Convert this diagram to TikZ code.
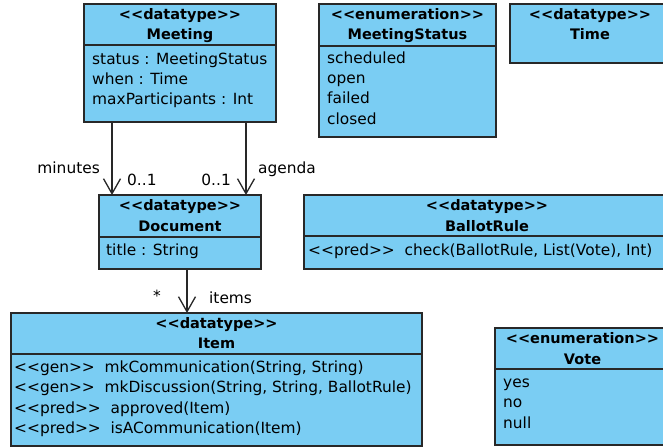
\documentclass[tikz,border=0pt]{standalone}
\usepackage{fontspec}
\setmainfont{DejaVu Sans}
\usetikzlibrary{arrows.meta}
\definecolor{umlfill}{RGB}{122,205,243}
\definecolor{umlline}{RGB}{40,40,40}
\newcommand{\stl}{<{}<}
\newcommand{\str}{>{}>}
\begin{document}
\begin{tikzpicture}[x=1pt,y=-1pt,
  cls/.style={draw=umlline, fill=umlfill, line width=1.3pt, rectangle, inner sep=0pt, outer sep=0pt, anchor=north west},
  hd/.style={font=\fontsize{14.5}{18}\selectfont\bfseries, anchor=base, inner sep=0pt},
  tx/.style={font=\fontsize{15.4}{18}\selectfont, anchor=base west, inner sep=0pt},
  lb/.style={font=\fontsize{15.4}{18}\selectfont, inner sep=0pt},
  assoc/.style={draw=umlline, line width=1.3pt, -{Straight Barb[length=15pt,width=17pt,line width=1.3pt]}},
  sepline/.style={draw=umlline, line width=1.3pt}
]
\useasboundingbox (0,0) rectangle (663,447);
\fill[white] (0,0) rectangle (663,447);

% Meeting
\node[cls, minimum width=192pt, minimum height=118pt] (meeting) at (84,4) {};
\draw[sepline] (meeting.west |- 0,45) -- (meeting.east |- 0,45);
\node[hd] (meetingS) at (180,19) {\stl datatype\str};
\node[hd] (meetingN) at (180,39.3) {Meeting};
\node[tx] (meetingA1) at (92,64) {status : MeetingStatus};
\node[tx] (meetingA2) at (92,84.3) {when : Time};
\node[tx] (meetingA3) at (92,104.6) {maxParticipants : Int};

% MeetingStatus
\node[cls, minimum width=177pt, minimum height=133pt] (mstatus) at (319,4) {};
\draw[sepline] (mstatus.west |- 0,46) -- (mstatus.east |- 0,46);
\node[hd] (mstatusS) at (407.5,19) {\stl enumeration\str};
\node[hd] (mstatusN) at (407.5,39.3) {MeetingStatus};
\node[tx] (mstatusA1) at (327,63.3) {scheduled};
\node[tx] (mstatusA2) at (327,83.6) {open};
\node[tx] (mstatusA3) at (327,103.9) {failed};
\node[tx] (mstatusA4) at (327,124.2) {closed};

% Time
\node[cls, minimum width=160pt, minimum height=59pt] (time) at (510,4) {};
\node[hd] (timeS) at (590,19) {\stl datatype\str};
\node[hd] (timeN) at (590,39.3) {Time};

% Document
\node[cls, minimum width=162pt, minimum height=74pt] (document) at (99,195) {};
\draw[sepline] (document.west |- 0,237) -- (document.east |- 0,237);
\node[hd] (documentS) at (180,210.7) {\stl datatype\str};
\node[hd] (documentN) at (180,231) {Document};
\node[tx] (documentA1) at (106,255.3) {title : String};

% BallotRule
\node[cls, minimum width=366pt, minimum height=74pt] (ballot) at (304,195) {};
\draw[sepline] (ballot.west |- 0,236) -- (ballot.east |- 0,236);
\node[hd] (ballotS) at (487,210.7) {\stl datatype\str};
\node[hd] (ballotN) at (487,231) {BallotRule};
\node[tx] (ballotO1) at (308,255.3) {\stl pred\str~~check(BallotRule, List(Vote), Int)};

% Item
\node[cls, minimum width=411pt, minimum height=133pt] (item) at (11,313) {};
\draw[sepline] (item.west |- 0,354) -- (item.east |- 0,354);
\node[hd] (itemS) at (216.5,328.3) {\stl datatype\str};
\node[hd] (itemN) at (216.5,348.3) {Item};
\node[tx] (itemO1) at (14,372.4) {\stl gen\str~~mkCommunication(String, String)};
\node[tx] (itemO2) at (14,392.7) {\stl gen\str~~mkDiscussion(String, String, BallotRule)};
\node[tx] (itemO3) at (14,413) {\stl pred\str~~approved(Item)};
\node[tx] (itemO4) at (14,433.3) {\stl pred\str~~isACommunication(Item)};

% Vote
\node[cls, minimum width=175pt, minimum height=117pt] (vote) at (495,328) {};
\draw[sepline] (vote.west |- 0,369) -- (vote.east |- 0,369);
\node[hd] (voteS) at (582.5,343.3) {\stl enumeration\str};
\node[hd] (voteN) at (582.5,364) {Vote};
\node[tx] (voteA1) at (503,387.5) {yes};
\node[tx] (voteA2) at (503,407.8) {no};
\node[tx] (voteA3) at (503,428.1) {null};

% connectors
\coordinate (cMin) at (112,0);
\coordinate (cAg) at (246,0);
\coordinate (cIt) at (187,0);
\draw[assoc] (meeting.south -| cMin) -- (document.north -| cMin);
\draw[assoc] (meeting.south -| cAg) -- (document.north -| cAg);
\draw[assoc] (document.south -| cIt) -- (item.north -| cIt);

% labels
\node[lb, anchor=base east] (lMin) at (100,173.3) {minutes};
\node[lb, anchor=base west] (lMinM) at (127,185) {0..1};
\node[lb, anchor=base east] (lAgM) at (231,185) {0..1};
\node[lb, anchor=base west] (lAg) at (258,173.3) {agenda};
\node[lb, anchor=base] (lItM) at (157,301) {*};
\node[lb, anchor=base west] (lIt) at (209,303.3) {items};
\end{tikzpicture}
\end{document}
